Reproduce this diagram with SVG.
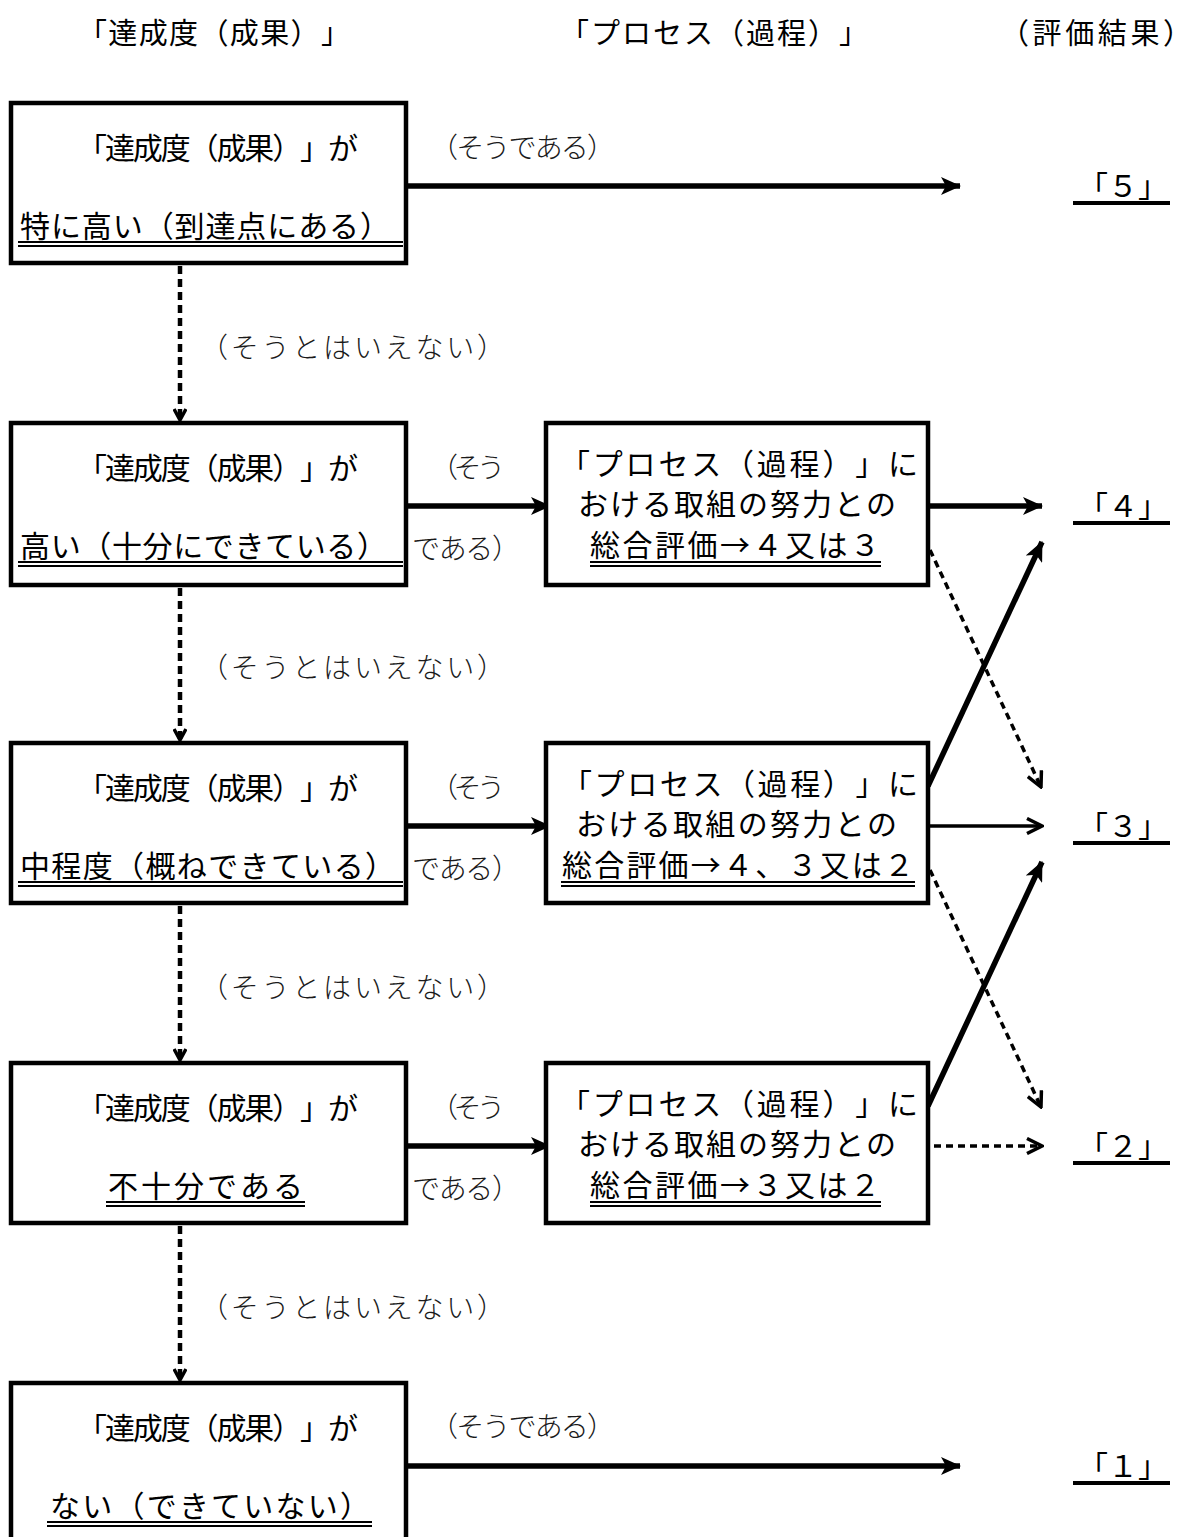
<svg xmlns="http://www.w3.org/2000/svg" width="1192" height="1537" viewBox="0 0 1192 1537">
<style>
text{text-spacing-trim:space-all;font-kerning:none}
.box{fill:#fff;stroke:#000;stroke-width:4.5}
.g{font-family:"Noto Sans CJK JP","Noto Sans",sans-serif;font-size:30px;fill:#000}
.h{font-family:"Noto Sans CJK JP","Noto Sans",sans-serif;font-size:29px;fill:#000}
.m{font-family:"Noto Sans CJK JP","Noto Sans",sans-serif;font-size:28px;font-weight:300;fill:#1a1a1a}
.ul{stroke:#000;stroke-width:2;fill:none}
.rl{stroke:#000;stroke-width:4;fill:none}
.thick{stroke:#000;stroke-width:5.5;fill:none}
.thin{stroke:#000;stroke-width:3.5;fill:none}
.dot{stroke:#000;stroke-width:4.5;stroke-dasharray:8 5;fill:none}
.dotd{stroke:#000;stroke-width:3.5;stroke-dasharray:7 5;fill:none}
</style>
<defs>
<marker id="fh" markerUnits="userSpaceOnUse" viewBox="0 0 20 18" refX="19" refY="9" markerWidth="20" markerHeight="18" orient="auto">
<path d="M0,0 L20,9 L0,18 L5,9 z" fill="#000"/>
</marker>
<marker id="oh" markerUnits="userSpaceOnUse" viewBox="0 0 18 18" refX="16" refY="9" markerWidth="18" markerHeight="18" orient="auto">
<path d="M1,1.5 L16,9 L1,16.5" fill="none" stroke="#000" stroke-width="3.5"/>
</marker>
<marker id="vh" markerUnits="userSpaceOnUse" viewBox="0 0 14 14" refX="12" refY="7" markerWidth="14" markerHeight="14" orient="auto">
<path d="M1,1 L12,7 L1,13" fill="none" stroke="#000" stroke-width="3.5"/>
</marker>
</defs>
<rect width="1192" height="1537" fill="#fff"/>

<g id="headers">
<text class="h" x="78" y="44" textLength="272" lengthAdjust="spacing">「達成度（成果）」</text>
<text class="h" x="560" y="44" textLength="308" lengthAdjust="spacing">「プロセス（過程）」</text>
<text class="h" x="1000" y="44" textLength="192" lengthAdjust="spacing">（評価結果）</text>
</g>

<g id="connectors">
<path class="dot" d="M180,266 V420" marker-end="url(#vh)"/>
<path class="dot" d="M180,588 V740" marker-end="url(#vh)"/>
<path class="dot" d="M180,906 V1060" marker-end="url(#vh)"/>
<path class="dot" d="M180,1226 V1380" marker-end="url(#vh)"/>
<path class="thick" d="M406,186 H960" marker-end="url(#fh)"/>
<path class="thick" d="M406,1466 H960" marker-end="url(#fh)"/>
<path class="thick" d="M406,506 H550" marker-end="url(#fh)"/>
<path class="thick" d="M406,826 H550" marker-end="url(#fh)"/>
<path class="thick" d="M406,1146 H550" marker-end="url(#fh)"/>
<path class="thick" d="M928,506 H1042" marker-end="url(#fh)"/>
<path class="thin" d="M928,826 H1042" marker-end="url(#oh)"/>
<path class="dotd" d="M934,1146 H1042" marker-end="url(#oh)"/>
<path class="thick" d="M928,786 L1042,542" marker-end="url(#fh)"/>
<path class="thick" d="M928,1106 L1042,862" marker-end="url(#fh)"/>
<path class="dotd" d="M930,550 L1041,787" marker-end="url(#oh)"/>
<path class="dotd" d="M930,870 L1041,1107" marker-end="url(#oh)"/>
</g>

<g id="edge-labels">
<text class="m" x="430" y="158" textLength="185" lengthAdjust="spacing">（そうである）</text>
<text class="m" x="200" y="358" textLength="305" lengthAdjust="spacing">（そうとはいえない）</text>
<text class="m" x="430" y="478" textLength="75" lengthAdjust="spacing">（そう</text>
<text class="m" x="412" y="559" textLength="108" lengthAdjust="spacing">である）</text>
<text class="m" x="200" y="678" textLength="305" lengthAdjust="spacing">（そうとはいえない）</text>
<text class="m" x="430" y="798" textLength="75" lengthAdjust="spacing">（そう</text>
<text class="m" x="412" y="879" textLength="108" lengthAdjust="spacing">である）</text>
<text class="m" x="200" y="998" textLength="305" lengthAdjust="spacing">（そうとはいえない）</text>
<text class="m" x="430" y="1118" textLength="75" lengthAdjust="spacing">（そう</text>
<text class="m" x="412" y="1199" textLength="108" lengthAdjust="spacing">である）</text>
<text class="m" x="200" y="1318" textLength="305" lengthAdjust="spacing">（そうとはいえない）</text>
<text class="m" x="430" y="1437" textLength="185" lengthAdjust="spacing">（そうである）</text>
</g>

<g id="box1">
<rect class="box" x="11" y="103" width="395" height="160"/>
<text class="g" x="77" y="159" textLength="281" lengthAdjust="spacing">「達成度（成果）」が</text>
<text class="g" x="20" y="237" textLength="370" lengthAdjust="spacing">特に高い（到達点にある）</text>
<path class="ul" d="M18,242 H403 M18,246 H403"/>
</g>
<g id="box2">
<rect class="box" x="11" y="423" width="395" height="162"/>
<text class="g" x="77" y="479" textLength="281" lengthAdjust="spacing">「達成度（成果）」が</text>
<text class="g" x="20" y="557" textLength="367" lengthAdjust="spacing">高い（十分にできている）</text>
<path class="ul" d="M18,562 H403 M18,566 H403"/>
</g>
<g id="box3">
<rect class="box" x="11" y="743" width="395" height="160"/>
<text class="g" x="77" y="799" textLength="281" lengthAdjust="spacing">「達成度（成果）」が</text>
<text class="g" x="20" y="877" textLength="375" lengthAdjust="spacing">中程度（概ねできている）</text>
<path class="ul" d="M18,882 H403 M18,886 H403"/>
</g>
<g id="box4">
<rect class="box" x="11" y="1063" width="395" height="160"/>
<text class="g" x="77" y="1119" textLength="281" lengthAdjust="spacing">「達成度（成果）」が</text>
<text class="g" x="108" y="1197" textLength="195" lengthAdjust="spacing">不十分である</text>
<path class="ul" d="M106,1202 H305 M106,1206 H305"/>
</g>
<g id="box5">
<rect class="box" x="11" y="1383" width="395" height="170"/>
<text class="g" x="77" y="1439" textLength="281" lengthAdjust="spacing">「達成度（成果）」が</text>
<text class="g" x="50" y="1517" textLength="320" lengthAdjust="spacing">ない（できていない）</text>
<path class="ul" d="M47,1522 H372 M47,1526 H372"/>
</g>

<g id="proc2">
<rect class="box" x="546" y="423" width="382" height="162"/>
<text class="g" x="560" y="475" textLength="358" lengthAdjust="spacing">「プロセス（過程）」に</text>
<text class="g" x="578" y="515" textLength="318" lengthAdjust="spacing">おける取組の努力との</text>
<text class="g" x="590" y="556" textLength="290" lengthAdjust="spacing">総合評価→４又は３</text>
<path class="ul" d="M590,562 H881 M590,566 H881"/>
</g>
<g id="proc3">
<rect class="box" x="546" y="743" width="382" height="160"/>
<text class="g" x="562" y="795" textLength="356" lengthAdjust="spacing">「プロセス（過程）」に</text>
<text class="g" x="576" y="835" textLength="321" lengthAdjust="spacing">おける取組の努力との</text>
<text class="g" x="562" y="876" textLength="352" lengthAdjust="spacing">総合評価→４、３又は２</text>
<path class="ul" d="M561,882 H915 M561,886 H915"/>
</g>
<g id="proc4">
<rect class="box" x="546" y="1063" width="382" height="160"/>
<text class="g" x="560" y="1115" textLength="358" lengthAdjust="spacing">「プロセス（過程）」に</text>
<text class="g" x="578" y="1155" textLength="318" lengthAdjust="spacing">おける取組の努力との</text>
<text class="g" x="590" y="1196" textLength="290" lengthAdjust="spacing">総合評価→３又は２</text>
<path class="ul" d="M590,1202 H881 M590,1206 H881"/>
</g>

<g id="res5">
<text class="g" x="1078" y="197" textLength="90" lengthAdjust="spacing">「５」</text>
<path class="rl" d="M1073,203 H1170"/>
</g>
<g id="res4">
<text class="g" x="1078" y="517" textLength="90" lengthAdjust="spacing">「４」</text>
<path class="rl" d="M1073,523 H1170"/>
</g>
<g id="res3">
<text class="g" x="1078" y="837" textLength="90" lengthAdjust="spacing">「３」</text>
<path class="rl" d="M1073,843 H1170"/>
</g>
<g id="res2">
<text class="g" x="1078" y="1157" textLength="90" lengthAdjust="spacing">「２」</text>
<path class="rl" d="M1073,1163 H1170"/>
</g>
<g id="res1">
<text class="g" x="1078" y="1477" textLength="90" lengthAdjust="spacing">「１」</text>
<path class="rl" d="M1073,1483 H1170"/>
</g>
</svg>
